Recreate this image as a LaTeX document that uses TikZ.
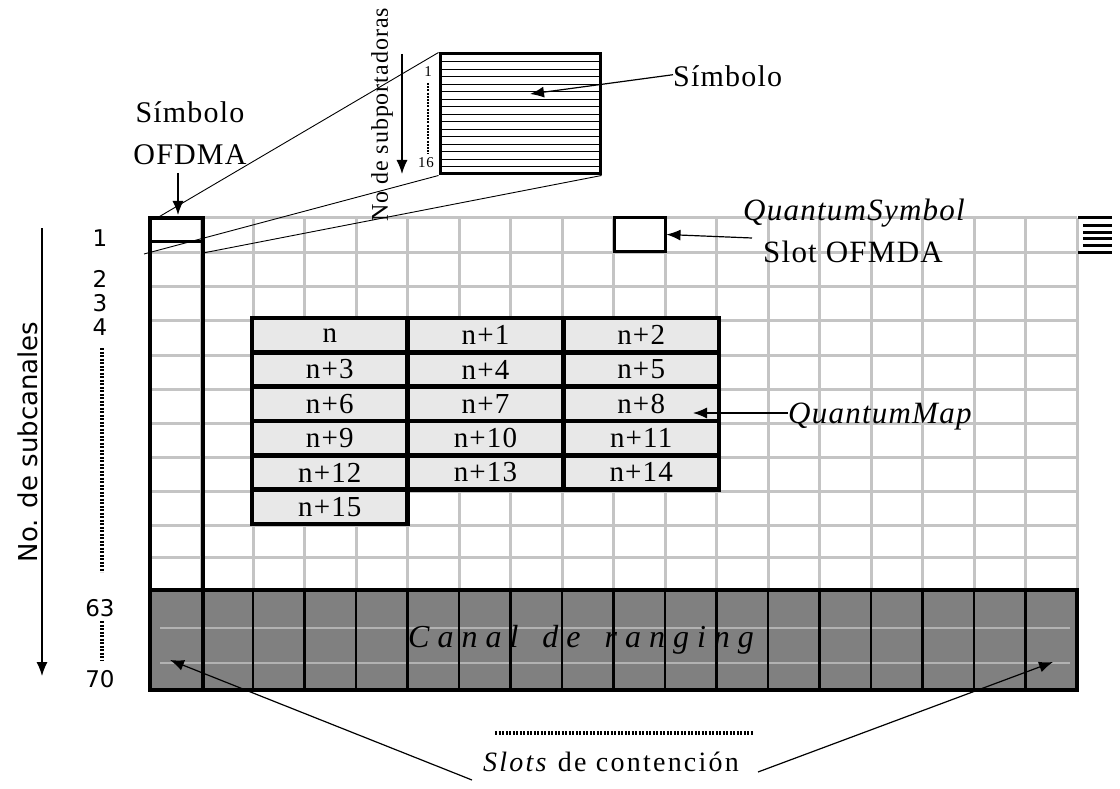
\documentclass[tikz,border=0pt]{standalone}
\usepackage{fontspec}
\setmainfont{Liberation Serif}[LetterSpace=4]
\newfontfamily\sansf{DejaVu Sans}
\usetikzlibrary{arrows.meta}
\definecolor{gridgray}{RGB}{196,196,196}
\definecolor{darkfill}{RGB}{128,128,128}
\definecolor{cellfill}{RGB}{232,232,232}
\definecolor{ruleline}{RGB}{178,178,178}
\newcommand\lsp{\hspace{8pt}}
\newcommand\wsp{\hspace{24pt}}
\begin{document}
\begin{tikzpicture}[x=1pt,y=-1pt,
  graygrid/.style={line width=3pt, draw=gridgray},
  blk/.style={line width=4.5pt, draw=black},
  colline/.style={line width=2.5pt, draw=black},
  arr/.style={-{Latex[length=14pt,width=11pt]}, line width=1.2pt},
  thinline/.style={line width=0.9pt},
  lbl/.style={inner sep=0pt, font=\fontsize{30}{32}\selectfont},
  ilbl/.style={inner sep=0pt, font=\fontsize{31}{33}\selectfont\itshape},
  numlbl/.style={inner sep=0pt, font=\sansf\fontsize{23}{24}\selectfont},
  qcell/.style={draw=black, line width=4.5pt, fill=cellfill, minimum width=155.7pt, minimum height=34.3pt, inner sep=0pt, font=\fontsize{29}{29}\selectfont},
  beadline/.style={line width=3.2pt, dash pattern=on 2.2pt off 1.3pt}
]
\useasboundingbox (0,0) rectangle (1120,789);

% ---------- light grid ----------
\foreach \i in {1,...,17}
  \draw[graygrid] ({150+51.5*\i},218) -- ({150+51.5*\i},590);
\draw[graygrid] (1077,218) -- (1077,590);
\foreach \y in {218,252,286,320,355,389,423,457,491,525,557}
  \draw[graygrid] (150,\y) -- (1077,\y);

% ---------- ranging channel ----------
\fill[darkfill] (150,590) rectangle (1077,690);
\foreach \y in {628,663}
  \draw[ruleline, line width=2pt] (160,\y) -- (1070,\y);
\foreach \i in {2,...,17}
  \draw[colline] ({150+51.5*\i},590) -- ({150+51.5*\i},690);
\draw[blk] (150,590) rectangle (1077,690);
\node[inner sep=0pt, anchor=base west, font=\fontsize{32}{32}\selectfont\itshape] (ranging) at (408,647)
  {C\lsp a\lsp n\lsp a\lsp l\wsp d\lsp e\wsp r\lsp a\lsp n\lsp g\lsp i\lsp n\lsp g};

% ---------- OFDMA symbol column ----------
\draw[blk] (150,218) rectangle (203,690);
\coordinate (colTL) at (157,218);
\coordinate (colL) at (144,254);
\coordinate (colR) at (203,253);
\draw[line width=3pt] (150,241) -- (203,241);

% ---------- quantum symbol slot ----------
\node[draw=black, line width=3pt, minimum width=51pt, minimum height=33pt, inner sep=0pt] (qslot) at (639.5,234.5) {};

% ---------- small stack icon at right ----------
\foreach \y in {218,252}
  \draw[line width=3pt] (1078,\y) -- (1112,\y);
\foreach \y in {225,232,238,245}
  \draw[line width=3pt] (1083,\y) -- (1112,\y);

% ---------- quantum map ----------
\foreach \t [count=\k from 0] in {n,n+1,n+2,n+3,n+4,n+5,n+6,n+7,n+8,n+9,n+10,n+11,n+12,n+13,n+14,n+15}{
  \pgfmathtruncatemacro{\r}{int(\k/3)}
  \pgfmathtruncatemacro{\c}{mod(\k,3)}
  \node[qcell] (q\k) at ({329.8+155.7*\c},{335.2+34.3*\r}) {\t};
}

% ---------- inset symbol ----------
\node[draw=black, line width=3pt, minimum width=160pt, minimum height=120pt, inner sep=0pt] (inset) at (520,114) {};
\foreach \k in {1,...,15}
  \draw[line width=0.8pt] (441,{54+7.5*\k}) -- (599,{54+7.5*\k});
\draw[thinline] (inset.north west) -- (colTL);
\draw[thinline] (inset.south west) -- (colL);
\draw[thinline] (inset.south east) -- (colR);

\node[inner sep=0pt, rotate=90, font=\fontsize{24}{24}\selectfont] (subp) at (382,115) {No de subportadoras};
\coordinate (sa1) at (402,54);
\coordinate (sa2) at (402,174);
\draw[arr] (sa1) -- (sa2);
\node[inner sep=0pt, font=\fontsize{15}{15}\selectfont] (s1) at (428,72) {1};
\node[inner sep=0pt, font=\fontsize{15}{15}\selectfont] (s16) at (426,163) {16};
\coordinate (d1) at (428,83);
\coordinate (d2) at (428,154);
\draw[line width=2.8pt, dash pattern=on 2pt off 1.2pt] (d1) -- (d2);

% ---------- labels top ----------
\node[lbl, anchor=base] (simb1) at (190,123) {Símbolo};
\node[lbl, anchor=base] (ofdma) at (190,165) {OFDMA};
\coordinate (oa1) at (178,173);
\coordinate (oa2) at (178,215);
\draw[arr] (oa1) -- (oa2);

\node[lbl, anchor=base west] (simb2) at (673,87) {Símbolo};
\coordinate (sim2tip) at (530,94);
\draw[arr] (simb2.west) ++(0,-2) -- (sim2tip);

\node[ilbl, anchor=base] (qsym) at (854,220) {QuantumSymbol};
\node[lbl, anchor=base, font=\fontsize{31}{33}\selectfont] (slot) at (853,262) {Slot OFMDA};
\coordinate (qs1) at (752,238);
\draw[arr] (qs1) -- (qslot.east);

\node[ilbl, anchor=base west] (qmap) at (788,423) {QuantumMap};
\coordinate (qm1) at (788,413);
\coordinate (qm2) at (693,413);
\draw[arr] (qm1) -- (qm2);

% ---------- left axis ----------
\node[numlbl] (n1) at (100,238) {1};
\node[numlbl] (n2) at (100,279) {2};
\node[numlbl] (n3) at (100,303) {3};
\node[numlbl] (n4) at (100,327) {4};
\coordinate (dv1) at (102,348);
\coordinate (dv2) at (102,572);
\draw[beadline] (dv1) -- (dv2);
\node[numlbl] (n63) at (100,608) {63};
\coordinate (dv3) at (102,621);
\coordinate (dv4) at (102,661);
\draw[beadline] (dv3) -- (dv4);
\node[numlbl] (n70) at (100,679) {70};

\node[inner sep=0pt, rotate=90, font=\sansf\fontsize{26}{26}\selectfont] (subc) at (28,442) {No. de subcanales};
\coordinate (la1) at (42,228);
\coordinate (la2) at (42,676);
\draw[arr] (la1) -- (la2);

% ---------- bottom ----------
\coordinate (bd1) at (495,733);
\coordinate (bd2) at (753,733);
\draw[beadline] (bd1) -- (bd2);
\node[inner sep=0pt, anchor=base, font=\fontsize{28}{28}\selectfont\addfontfeature{LetterSpace=8}] (slots) at (611,771) {\textit{Slots} de contención};
\coordinate (bl1) at (472,780);
\coordinate (bl2) at (170,660);
\coordinate (br1) at (758,772);
\coordinate (br2) at (1053,662);
\draw[arr] (bl1) -- (bl2);
\draw[arr] (br1) -- (br2);
\end{tikzpicture}
\end{document}
